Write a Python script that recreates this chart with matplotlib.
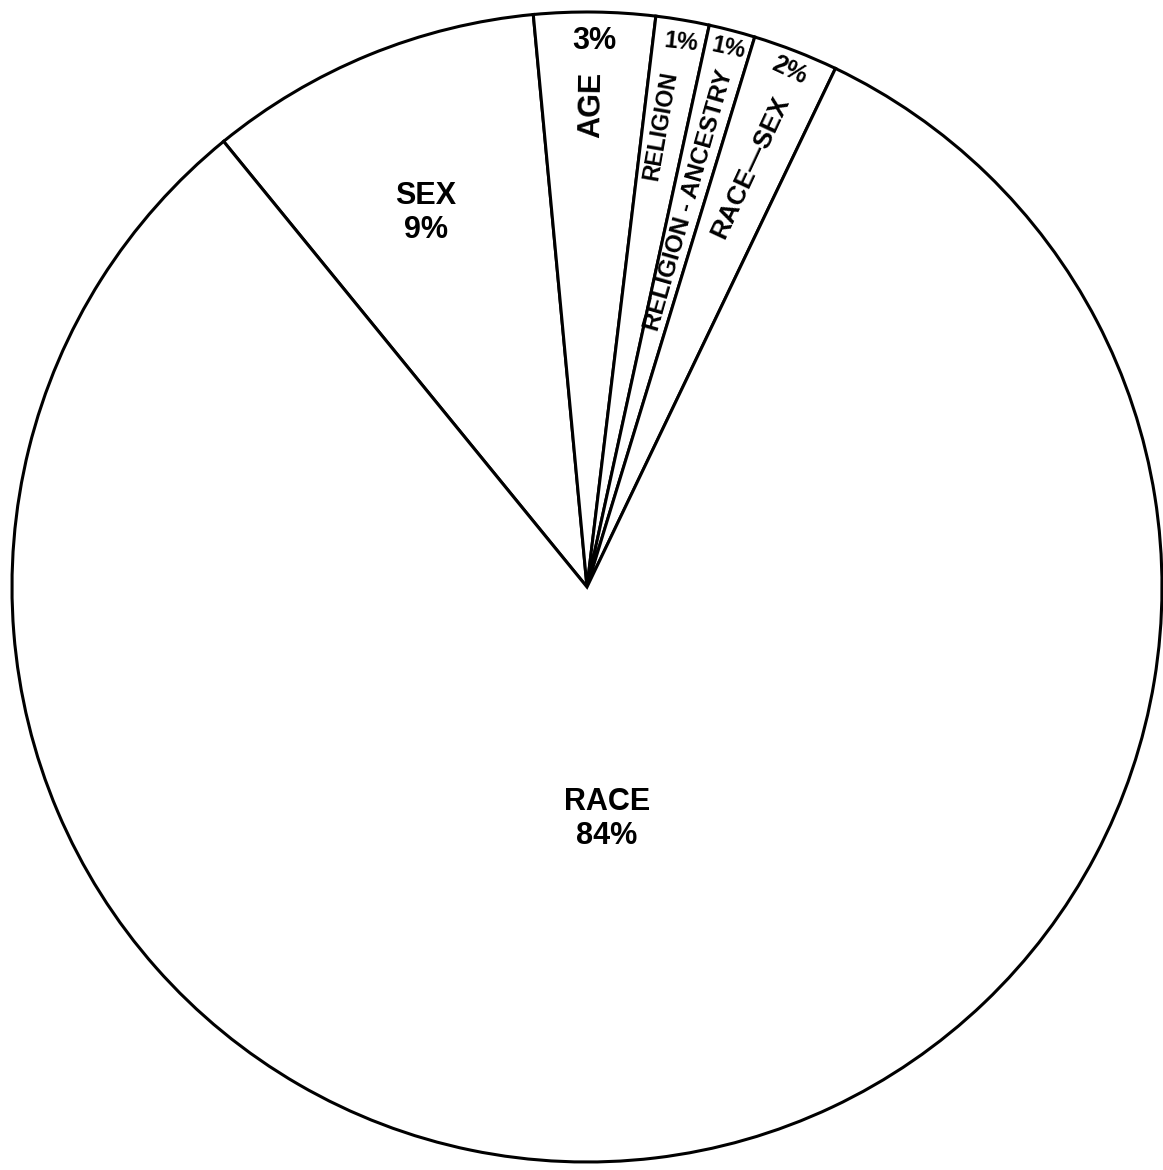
import matplotlib
matplotlib.use('Agg')
from matplotlib import pyplot as plt

# slice shares as drawn (clockwise from SEX), and the printed labels
categories = ['SEX', 'AGE', 'RELIGION', 'RELIGION - ANCESTRY', 'RACE\u2014SEX', 'RACE']
shares = [9.4, 3.4, 1.5, 1.3, 2.4, 82.0]
pct_labels = ['9%', '3%', '1%', '1%', '2%', '84%']

plt.rcParams['font.family'] = ['Liberation Sans', 'DejaVu Sans']

fig = plt.figure(figsize=(11.63, 11.70), dpi=100)
ax = fig.add_axes([0, 0, 1, 1])

ax.pie(shares, radius=575, startangle=129.2, counterclock=False,
       colors=['white'] * len(shares), frame=True,
       wedgeprops={'edgecolor': 'black', 'linewidth': 2.2})
# axes units = pixels, pie centred at (587, 587) from top-left
ax.set_xlim(-587, 576)
ax.set_ylim(-583, 587)
ax.set_aspect('equal')
ax.axis('off')

bold = dict(fontweight='bold', ha='center', va='center', color='black')

ax.text(-161, 374, f'{categories[0]}\n{pct_labels[0]}', fontsize=22, linespacing=1.2, **bold)
ax.text(20, -232, f'{categories[5]}\n{pct_labels[5]}', fontsize=22, linespacing=1.2, **bold)

ax.text(5, 482, categories[1], fontsize=22, rotation=89, **bold)
ax.text(7, 546, pct_labels[1], fontsize=22, **bold)

ax.text(74, 461, categories[2], fontsize=16.5, rotation=80, **bold)
ax.text(94, 545, pct_labels[2], fontsize=17, rotation=-6, **bold)

ax.text(102, 387, categories[3], fontsize=17.5, rotation=74, **bold)
ax.text(142, 539, pct_labels[3], fontsize=17, rotation=-12, **bold)

ax.text(163, 420, categories[4], fontsize=19, rotation=65, **bold)
ax.text(202, 517, pct_labels[4], fontsize=18, rotation=-25, **bold)

fig.savefig('out.png', dpi=100, facecolor='white')
